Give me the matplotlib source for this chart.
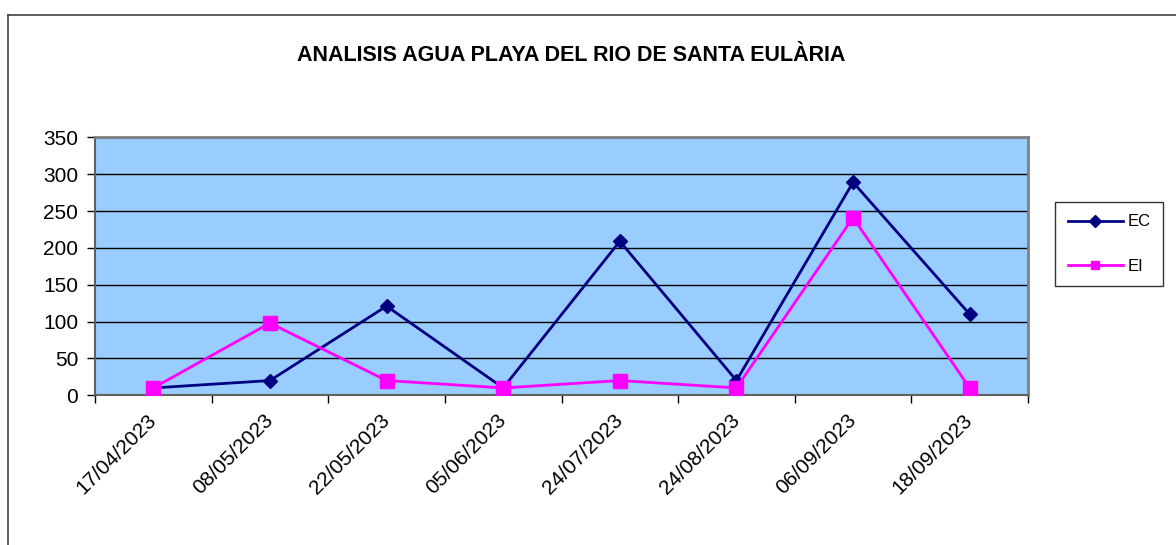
#! /usr/bin/env python3
import matplotlib
matplotlib.use("Agg")
import matplotlib.pyplot as plt
from matplotlib.lines import Line2D

plt.rcParams['font.family'] = ['Liberation Sans', 'DejaVu Sans']
plt.rcParams['font.size'] = 15

fechas = ["17/04/2023", "08/05/2023", "22/05/2023", "05/06/2023",
          "24/07/2023", "24/08/2023", "06/09/2023", "18/09/2023"]
ec = [10, 20, 121, 10, 209, 20, 289, 110]
ei = [10, 98, 20, 10, 20, 10, 241, 10]
yticks = [0, 50, 100, 150, 200, 250, 300, 350]

W, H = 1176, 545
fig = plt.figure(figsize=(W / 100, H / 100), dpi=100)

# outer chart frame (left and top edges visible)
fig.add_artist(Line2D([8 / W, 8 / W], [0, 1 - 15 / H], color="#404040", lw=1.2))
fig.add_artist(Line2D([8 / W, 1], [1 - 15 / H, 1 - 15 / H], color="#404040", lw=1.2))

ax = fig.add_axes([95 / W, 1 - 395.3 / H, (1028 - 95) / W, (395.3 - 137.3) / H])
ax.set_facecolor("#99CCFF")

x = list(range(len(fechas)))
ax.plot(x, ec, color="#000080", lw=2, marker="D", ms=7, label="EC", zorder=3)
ax.plot(x, ei, color="#FF00FF", lw=2, marker="s", ms=10, label="EI", zorder=3)

ax.set_xlim(-0.5, len(fechas) - 0.5)
ax.set_ylim(0, 350)
ax.set_yticks(yticks)
ax.yaxis.grid(True, color="black", lw=1)
ax.set_axisbelow(True)

# category ticks between points, labels at the points
ax.set_xticks([i - 0.5 for i in range(len(fechas) + 1)])
ax.set_xticklabels([])
ax.set_xticks(x, minor=True)
ax.set_xticklabels(fechas, minor=True, rotation=45, ha="right",
                   va="center", rotation_mode="anchor")
ax.tick_params(axis="x", which="minor", length=0, pad=16)
ax.tick_params(axis="x", which="major", length=6, width=1, direction="out")
ax.tick_params(axis="y", length=6, width=1, direction="out", pad=6)

for s in ["top", "right"]:
    ax.spines[s].set_color("#808080")
    ax.spines[s].set_linewidth(2)
for s in ["left", "bottom"]:
    ax.spines[s].set_color("#606060")
    ax.spines[s].set_linewidth(1.5)

fig.text(571 / W, 1 - 55 / H, "ANALISIS AGUA PLAYA DEL RIO DE SANTA EULÀRIA",
         ha="center", va="center", fontsize=15.5, fontweight="bold")

leg = fig.legend(loc="upper left", bbox_to_anchor=(1055 / W, 1 - 202 / H),
                 fontsize=12, frameon=True, fancybox=False, borderpad=0.75,
                 labelspacing=1.75, handlelength=3.3, handletextpad=0.3,
                 borderaxespad=0)
leg.get_frame().set_edgecolor("black")
leg.get_frame().set_linewidth(1)
for h in leg.legend_handles:
    h.set_markersize(6)

fig.savefig("out.png", dpi=100)
